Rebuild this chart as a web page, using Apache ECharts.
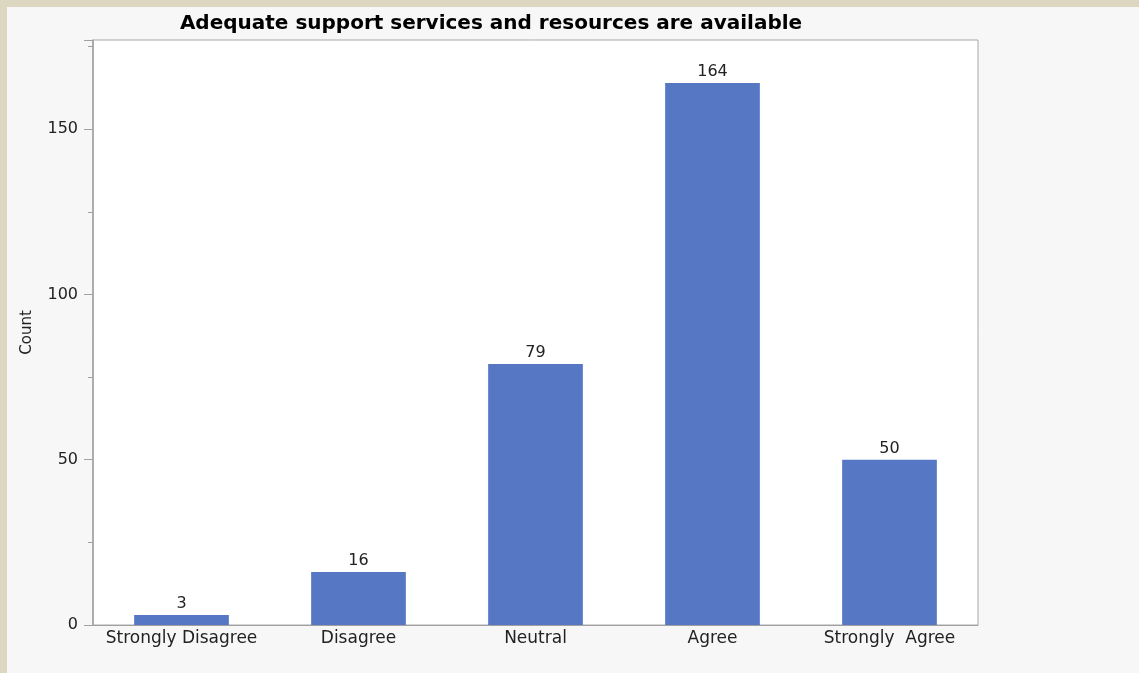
<!DOCTYPE html>
<html>
<head>
<meta charset="utf-8">
<script src="https://cdn.jsdelivr.net/npm/echarts@6/dist/echarts.min.js"></script>
<style>
  html, body { margin: 0; padding: 0; background: #ddd6c1; }
  #chart { position: absolute; left: 7px; top: 7px; width: 1132px; height: 666px; background: #f7f7f7; }
</style>
</head>
<body>
<div id="chart"></div>
<script>
// Response categories and counts
const categories = ['Strongly Disagree', 'Disagree', 'Neutral', 'Agree', 'Strongly  Agree'];
const counts = [3, 16, 79, 164, 50];
const chartTitle = 'Adequate support services and resources are available';
const yAxisName = 'Count';

const FONT = '"DejaVu Sans", "Noto Sans", sans-serif';
const chart = echarts.init(document.getElementById('chart'), null, { renderer: 'canvas' });

chart.setOption({
  backgroundColor: '#f7f7f7',
  animation: false,
  title: {
    text: chartTitle,
    left: 479,
    top: 2,
    textAlign: 'center',
    textStyle: { fontFamily: FONT, fontWeight: 'bold', fontSize: 20, color: '#000' }
  },
  grid: {
    left: 86, top: 33, right: 161, bottom: 48,
    show: true, backgroundColor: '#ffffff', borderColor: '#a8a8a8', borderWidth: 1
  },
  xAxis: {
    type: 'category',
    data: categories,
    axisLine: { lineStyle: { color: '#a0a0a0', width: 1 } },
    axisTick: { show: false },
    axisLabel: { fontFamily: FONT, fontSize: 17, color: '#222', margin: 5, interval: 0 }
  },
  yAxis: {
    type: 'value',
    min: 0,
    max: 177,
    interval: 50,
    name: yAxisName,
    nameLocation: 'middle',
    nameGap: 58,
    nameTextStyle: { fontFamily: FONT, fontSize: 15, color: '#222' },
    splitLine: { show: false },
    axisLine: { show: true, lineStyle: { color: '#a0a0a0', width: 1.5 } },
    axisTick: { show: true, length: 9, lineStyle: { color: '#a0a0a0' } },
    minorTick: { show: true, splitNumber: 2, length: 5, lineStyle: { color: '#a0a0a0' } },
    axisLabel: { fontFamily: FONT, fontSize: 16, color: '#222', margin: 15, showMaxLabel: false }
  },
  series: [{
    type: 'bar',
    data: counts,
    barWidth: '53.5%',
    itemStyle: { color: '#5677c4' },
    label: {
      show: true,
      position: 'top',
      distance: 3,
      fontFamily: FONT,
      fontSize: 16,
      color: '#222'
    }
  }]
});
</script>
</body>
</html>
